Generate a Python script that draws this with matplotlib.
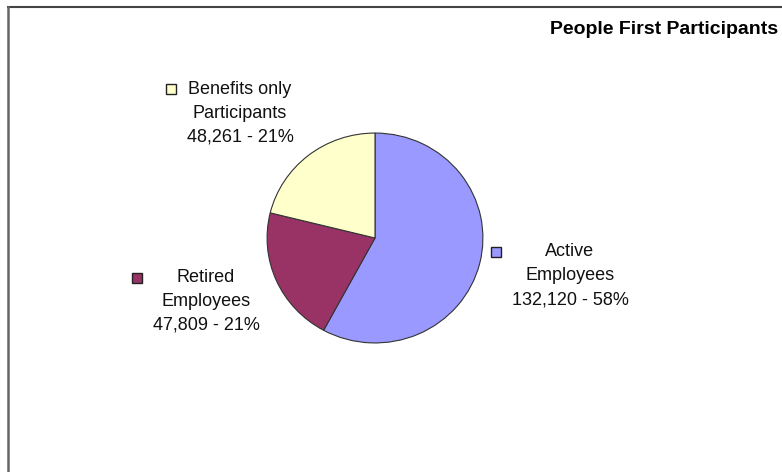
import matplotlib
matplotlib.use("Agg")
import matplotlib.pyplot as plt
from matplotlib.patches import Rectangle
from matplotlib.lines import Line2D

# data
groups = ["Active\nEmployees", "Retired\nEmployees", "Benefits only\nParticipants"]
counts = [132120, 47809, 48261]
colors = ["#9999FF", "#993366", "#FFFFCC"]
title = "People First Participants"

W, H = 782, 472
plt.rcParams['font.family'] = ['Liberation Sans', 'DejaVu Sans']

fig = plt.figure(figsize=(W / 100, H / 100), dpi=100)

def fx(px):
    return px / W

def fy(py):
    return 1 - py / H

# pie area (slightly wider than tall, like the original)
ax = fig.add_axes([fx(266), fy(344), fx(484) - fx(266), fy(132) - fy(344)])
ax.pie(counts, colors=colors, startangle=90, counterclock=False,
       wedgeprops=dict(edgecolor="#333333", linewidth=0.8))
ax.set_aspect('auto')
ax.set_xlim(-1.01, 1.01)
ax.set_ylim(-1.01, 1.01)
ax.axis('off')

total = sum(counts)
# label anchor: (square x, square y, text centre x, first line y) in pixels
label_pos = [(496, 252, 570, 252), (137, 278, 206, 277), (171, 89, 240, 89)]
for name, n, c, (sx, sy, tx, ty) in zip(groups, counts, colors, label_pos):
    pct = round(100 * n / total)
    lines = name.split("\n") + [f"{n:,} - {pct}%"]
    for i, line in enumerate(lines):
        fig.text(fx(tx), fy(ty + 24 * i), line, ha='center', va='center',
                 fontsize=13, color="#111111")
    fig.patches.append(Rectangle((fx(sx - 5), fy(sy + 5)), 10 / W, 10 / H,
                                 transform=fig.transFigure, facecolor=c,
                                 edgecolor="#222222", linewidth=1))

fig.text(fx(778), fy(29), title, ha='right', va='center', fontsize=14,
         fontweight='bold')

# chart frame (only top and left edges visible)
fig.lines.append(Line2D([fx(8), 1], [fy(7), fy(7)], transform=fig.transFigure,
                        color="#444444", linewidth=1.5))
fig.lines.append(Line2D([fx(8), fx(8)], [fy(7), 0], transform=fig.transFigure,
                        color="#666666", linewidth=1.8))

fig.savefig("out.png", dpi=100)
